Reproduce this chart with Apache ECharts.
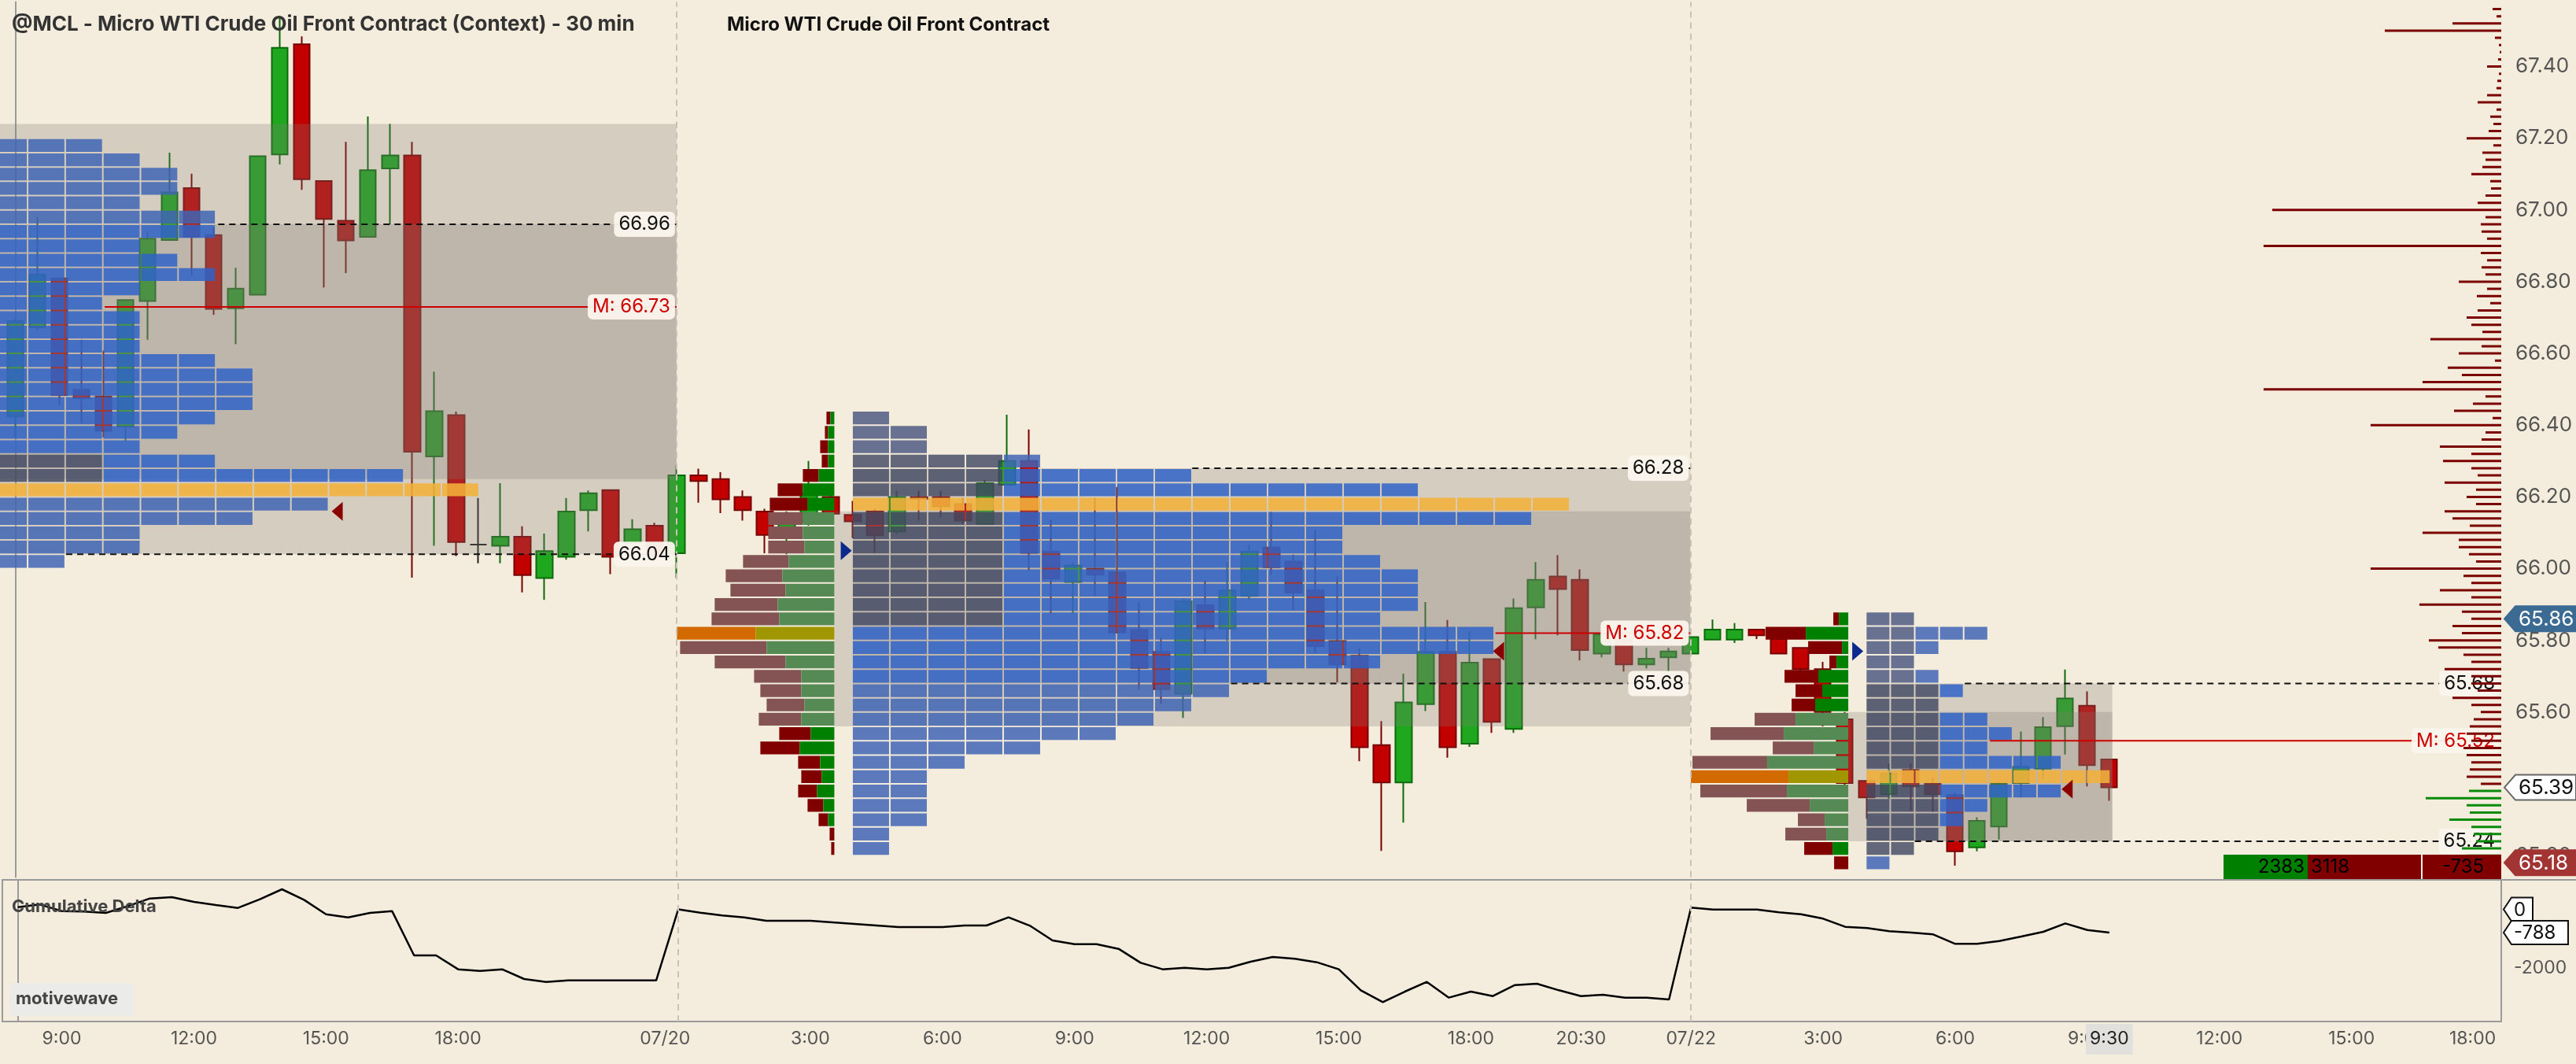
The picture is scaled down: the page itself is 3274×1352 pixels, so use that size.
<!DOCTYPE html>
<html>
<head>
<meta charset="utf-8">
<script src="https://cdn.jsdelivr.net/npm/echarts@6/dist/echarts.min.js"></script>
<style>
html, body { margin: 0; padding: 0; background: #f4ecdc; }
#chart { width: 3274px; height: 1352px; }
</style>
</head>
<body>
<div id="chart"></div>
<script>
// 30 min bars, one row per bar: open, close, low, high
var candles = [
  [66.424, 66.690, 66.366, 66.698], [66.673, 66.819, 66.666, 66.980], [66.809, 66.484, 66.457, 66.809],
  [66.499, 66.475, 66.406, 66.638], [66.480, 66.384, 66.366, 66.608], [66.396, 66.749, 66.356, 66.749],
  [66.746, 66.920, 66.638, 66.940], [66.916, 67.049, 66.916, 67.160], [67.061, 66.925, 66.817, 67.101],
  [66.930, 66.724, 66.708, 66.952], [66.726, 66.781, 66.626, 66.839], [66.764, 67.150, 66.764, 67.150],
  [67.155, 67.452, 67.127, 67.540], [67.462, 67.086, 67.056, 67.484], [67.081, 66.975, 66.784, 67.081],
  [66.970, 66.915, 66.824, 67.190], [66.925, 67.111, 66.925, 67.261], [67.116, 67.152, 66.960, 67.240],
  [67.152, 66.326, 65.975, 67.190], [66.313, 66.439, 66.064, 66.549], [66.428, 66.074, 66.035, 66.438],
  [66.067, 66.067, 66.015, 66.197], [66.064, 66.089, 66.015, 66.238], [66.089, 65.982, 65.934, 66.118],
  [65.974, 66.049, 65.913, 66.098], [66.033, 66.159, 66.025, 66.197], [66.163, 66.210, 66.104, 66.218],
  [66.219, 66.033, 65.985, 66.219], [66.072, 66.110, 66.072, 66.138], [66.120, 66.035, 66.020, 66.128],
  [66.043, 66.260, 65.974, 66.288], [66.260, 66.244, 66.184, 66.279], [66.250, 66.193, 66.155, 66.269],
  [66.200, 66.163, 66.134, 66.218], [66.159, 66.094, 66.043, 66.167], [66.094, 66.130, 66.040, 66.160],
  [66.130, 66.210, 66.120, 66.300], [66.200, 66.153, 66.140, 66.210], [66.150, 66.132, 66.085, 66.189],
  [66.160, 66.093, 66.044, 66.167], [66.104, 66.200, 66.096, 66.217], [66.200, 66.195, 66.134, 66.217],
  [66.200, 66.174, 66.144, 66.217], [66.180, 66.134, 66.125, 66.197], [66.124, 66.238, 66.124, 66.247],
  [66.234, 66.300, 66.234, 66.429], [66.300, 66.044, 65.994, 66.388], [66.048, 65.972, 65.874, 66.138],
  [65.963, 66.009, 65.874, 66.017], [66.000, 65.983, 65.924, 66.197], [65.989, 65.822, 65.822, 66.228],
  [65.829, 65.723, 65.664, 65.907], [65.768, 65.664, 65.623, 65.807], [65.651, 65.909, 65.584, 65.916],
  [65.898, 65.833, 65.764, 65.968], [65.833, 65.939, 65.798, 66.017], [65.924, 66.048, 65.914, 66.067],
  [66.059, 66.004, 65.983, 66.158], [66.020, 65.933, 65.885, 66.039], [65.939, 65.784, 65.764, 66.108],
  [65.798, 65.733, 65.683, 65.978], [65.757, 65.502, 65.463, 65.777], [65.508, 65.404, 65.213, 65.575],
  [65.404, 65.627, 65.292, 65.707], [65.622, 65.768, 65.603, 65.907], [65.768, 65.502, 65.473, 65.857],
  [65.512, 65.738, 65.503, 65.827], [65.748, 65.573, 65.542, 65.748], [65.553, 65.890, 65.542, 65.917],
  [65.892, 65.969, 65.803, 66.018], [65.978, 65.943, 65.814, 66.038], [65.969, 65.773, 65.744, 65.998],
  [65.763, 65.817, 65.753, 65.826], [65.802, 65.733, 65.713, 65.802], [65.733, 65.749, 65.722, 65.779],
  [65.753, 65.769, 65.713, 65.779], [65.763, 65.809, 65.763, 65.809], [65.802, 65.830, 65.802, 65.858],
  [65.802, 65.830, 65.793, 65.848], [65.830, 65.814, 65.804, 65.830], [65.804, 65.763, 65.763, 65.804],
  [65.779, 65.720, 65.706, 65.779], [65.720, 65.600, 65.560, 65.740], [65.580, 65.402, 65.390, 65.600],
  [65.408, 65.362, 65.303, 65.408], [65.371, 65.429, 65.358, 65.457], [65.439, 65.393, 65.325, 65.457],
  [65.400, 65.371, 65.322, 65.417], [65.369, 65.212, 65.172, 65.376], [65.223, 65.297, 65.212, 65.307],
  [65.281, 65.400, 65.245, 65.406], [65.402, 65.448, 65.362, 65.546], [65.442, 65.558, 65.413, 65.586],
  [65.561, 65.638, 65.482, 65.719], [65.618, 65.452, 65.393, 65.658], [65.468, 65.390, 65.353, 65.468]
];

var cumDelta = [
  75, 164, -58, -76, -120, 111, 369, 413, 253, 147, 49, 342, 680, 324, -165, -271, -120, -58,
  -1560, -1560, -2031, -2085, -2031, -2360, -2458, -2404, -2404, -2404, -2404, -2404,
  1, -111, -209, -271, -387, -387, -387, -440, -493, -547, -600, -600, -600, -547, -547, -271,
  -565, -1053, -1178, -1178, -1338, -1809, -2031, -1978, -2031, -1978, -1773, -1613,
  -1676, -1791, -2031, -2742, -3142, -2787, -2458, -2991, -2787, -2938, -2565, -2520, -2742,
  -2938, -2893, -2991, -2991, -3053,
  58, -4, -4, -4, -102, -165, -316, -591, -636, -742, -787, -849, -1169, -1169, -1071, -920,
  -760, -476, -700, -788
];

// time axis labels (bar index -> text)
var timeTickPos = [2, 8, 14, 20, 29.4, 36, 42, 48, 54, 60, 66, 71, 76, 82, 88, 94, 95, 100, 106, 111.5];
var timeTickText = ['9:00', '12:00', '15:00', '18:00', '07/20', '3:00', '6:00', '9:00', '12:00', '15:00',
  '18:00', '20:30', '07/22', '3:00', '6:00', '9:00', '9:30', '12:00', '15:00', '18:00'];

// TPO profiles: top row price, then block count per 0.04 row going down
var tpoTop = [67.18, 66.42, 65.86];
var tpo1 = [3, 4, 5, 5, 4, 6, 6, 4, 5, 6, 4, 3, 4, 4, 4, 6, 7, 7, 7, 6, 5, 4, 6, 11, 13, 9, 7, 4, 4, 2];
var tpo2 = [1, 2, 2, 5, 9, 15, 19, 18, 13, 13, 14, 15, 15, 15, 14, 17, 17, 14, 11, 10, 9, 8, 7, 5, 3, 2, 2, 2, 2, 1, 1];
var tpo3 = [2, 5, 3, 2, 3, 4, 3, 5, 6, 5, 8, 10, 8, 5, 4, 3, 2, 1];

// session volume profiles (sell / buy), rows of 0.04 going down from top
var histTop = [null, 66.42, 65.86];
var hist2Sell = [5, 4, 10, 8, 20, 32, 48, 44, 44, 46, 58, 72, 70, 80, 86, 100, 110, 90, 60, 52, 48, 54, 40, 50, 28, 26, 24, 20, 12, 6, 4];
var hist2Buy = [5, 8, 8, 8, 20, 40, 34, 40, 40, 38, 58, 66, 62, 72, 70, 100, 86, 62, 42, 42, 38, 42, 30, 44, 18, 16, 22, 14, 8, 0, 0];
var hist3Sell = [7, 51, 43, 9, 43, 34, 30, 52, 93, 52, 95, 124, 110, 80, 34, 52, 36, 18];
var hist3Buy = [12, 54, 8, 15, 38, 33, 42, 67, 82, 44, 103, 76, 78, 49, 30, 28, 20, 0];

// value areas (high, low), developing levels and midpoints per session
var volVA = [[67.24, 66.04], [66.16, 65.56], [65.60, 65.24]];
var tpoVA = [[66.96, 66.25], [66.28, 65.68], [65.68, 65.24]];
var levels = [[66.96, 66.04], [66.28, 65.68], [65.68, 65.24]];
var mids = [66.73, 65.82, 65.52];
var sellMarks = [[14.6, 66.16], [67.3, 65.77], [93.1, 65.385]];
var buyMarks = [[37.7, 66.05], [83.6, 65.77]];

// full volume by price on the right edge, 0.02 rows from 67.56 down
var rightTop = 67.56;
var rightSell = [11, 6, 62, 148, 8, 3, 2, 4, 18, 3, 5, 6, 18, 30, 6, 14, 10, 16, 44, 10, 24, 20, 24, 38, 14, 13,
  20, 30, 291, 20, 26, 25, 18, 302, 26, 18, 25, 20, 54, 18, 31, 14, 30, 44, 38, 24, 90, 25, 54, 8, 68, 50,
  100, 302, 20, 36, 60, 11, 166, 20, 25, 78, 38, 74, 38, 30, 72, 32, 44, 32, 72, 62, 40, 100, 54, 54, 41,
  32, 166, 48, 38, 78, 38, 104, 50, 38, 62, 50, 92, 80, 48, 38, 72, 38, 38, 30, 62, 38, 26, 35, 40, 44, 38,
  48, 44, 38, 40, 44, 26];
var rightBuy = [41, 96, 44, 40, 66, 38, 35, 32, 50, 44, 30];

var tagPrices = [65.86, 65.39, 65.18];
var deltaTags = [0, -788];
var barStats = ['2383', '3118', '-735'];

// ---- layout ----
var FONT = 'Inter, "Noto Sans", sans-serif';
var X0 = -0.7, X1 = 112.8, ROW = 0.04, PX = 1 / 28;
var sectionEnd = [30, 76, 95.15];
var tpoStart = [-1.12, 38.0, 84.0];
var tpoBlockW = [1.707, 1.714, 1.11];
var tpoDark = [{ cols: 3, r0: 22, r1: 23 }, { cols: 4, r0: 3, r1: 14 }, { cols: 3, r0: 5, r1: 16 }];
var histAnchor = [null, 37.16, 83.17];
var levelStart = [[9.2, 2.3], [53.4, 55.16], [88.46, 86.19]];
var midStart = [4.05, 67.16, 89.6];
var labelEnd = [30, 76, X1];

var tpoSets = [tpo1, tpo2, tpo3];
var histSets = [null, [hist2Sell, hist2Buy], [hist3Sell, hist3Buy]];

function argMax(a) { var m = 0; for (var i = 1; i < a.length; i++) if (a[i] > a[m]) m = i; return m; }
function inRange(p, r) { return p <= r[0] + 1e-6 && p >= r[1] - 1e-6; }
function box(api, xa, xb, pa, pb) {
  var a = api.coord([xa, pa]), b = api.coord([xb, pb]);
  return { x: Math.min(a[0], b[0]), y: Math.min(a[1], b[1]), width: Math.abs(b[0] - a[0]), height: Math.abs(b[1] - a[1]) };
}

var tpoItems = [];
tpoSets.forEach(function (rows, s) {
  rows.forEach(function (n, r) { for (var c = 0; c < n; c++) tpoItems.push([s, r, c]); });
});
var tpoPoc = tpoSets.map(argMax);

var histItems = [];
var histPoc = [null];
[1, 2].forEach(function (s) {
  var tot = histSets[s][0].map(function (v, i) { return v + histSets[s][1][i]; });
  histPoc[s] = argMax(tot);
  tot.forEach(function (v, r) { histItems.push([s, r]); });
});

var shadeItems = [];
for (var s = 0; s < 3; s++) {
  shadeItems.push([s === 0 ? X0 : histAnchor[s], sectionEnd[s], volVA[s][0], volVA[s][1]]);
  shadeItems.push([s === 0 ? X0 : tpoStart[s], sectionEnd[s], tpoVA[s][0], tpoVA[s][1]]);
}

var lineItems = [], labelItems = [];
for (var s = 0; s < 3; s++) {
  var endX = s === 2 ? X1 : sectionEnd[s];
  lineItems.push([levelStart[s][0], endX, levels[s][0], 0]);
  lineItems.push([levelStart[s][1], endX, levels[s][1], 0]);
  lineItems.push([midStart[s], endX, mids[s], 1]);
  labelItems.push([labelEnd[s], levels[s][0], s, 0]);
  labelItems.push([labelEnd[s], mids[s], s, 1]);
  labelItems.push([labelEnd[s], levels[s][1], s, 2]);
}

var rightItems = [];
rightSell.forEach(function (v, i) { rightItems.push([rightTop - 0.02 * i, v, 0]); });
var buyTop = rightTop - 0.02 * rightSell.length;
rightBuy.forEach(function (v, i) { rightItems.push([buyTop - 0.02 * i, v, 1]); });

var candleData = candles.map(function (d, i) {
  var item = { value: [i, d[0], d[1], d[2], d[3]] };
  if (d[0] === d[1]) item.itemStyle = { color: '#222', borderColor: '#222' };
  return item;
});

var dividerLine = {
  silent: true, symbol: ['none', 'none'], label: { show: false },
  lineStyle: { type: [8, 6], color: '#c9c2b6', width: 2 },
  data: [{ xAxis: 30 }, { xAxis: 76 }]
};

var chart = echarts.init(document.getElementById('chart'));

var option = {
  backgroundColor: '#f4ecdc',
  animation: false,
  title: [
    { text: '@MCL - Micro WTI Crude Oil Front Contract (Context) - 30 min', left: 10, top: 13,
      textStyle: { fontFamily: FONT, fontSize: 26, fontWeight: 'bold', color: '#333' } },
    { text: 'Micro WTI Crude Oil Front Contract', left: 919, top: 15,
      textStyle: { fontFamily: FONT, fontSize: 24, fontWeight: 'bold', color: '#111' } },
    { text: 'Cumulative Delta', left: 10, top: 1136,
      textStyle: { fontFamily: FONT, fontSize: 22, fontWeight: 'bold', color: '#444' } }
  ],
  grid: [
    { left: 0, top: 2.5, width: 3179, height: 1112 },
    { left: 0, top: 1118, width: 3179, height: 180, show: true, borderColor: '#9a9a9a', borderWidth: 2 }
  ],
  xAxis: [
    { type: 'value', gridIndex: 0, min: X0, max: X1, show: false },
    { type: 'value', gridIndex: 1, min: X0, max: X1, interval: 0.1,
      axisLine: { show: false }, axisTick: { show: false }, splitLine: { show: false },
      axisLabel: {
        margin: 3, color: '#555', fontSize: 23, fontFamily: FONT,
        formatter: function (v) {
          var k = Math.round(v * 10) / 10;
          var i = timeTickPos.indexOf(k);
          if (i < 0) return '';
          return timeTickText[i] === '9:30' ? '{h|9:30}' : '{n|' + timeTickText[i] + '}';
        },
        rich: {
          n: { color: '#555', fontSize: 23, fontFamily: FONT, padding: [8, 5, 8, 5] },
          h: { backgroundColor: '#e2e0dc', color: '#222', fontSize: 23, fontFamily: FONT, padding: [8, 5, 8, 5] }
        }
      } }
  ],
  yAxis: [
    { type: 'value', gridIndex: 0, position: 'right', min: 65.14, max: 67.58, interval: 0.02,
      axisLine: { show: true, lineStyle: { color: '#9a9a9a', width: 2 } }, axisTick: { show: false },
      splitLine: { show: false },
      axisLabel: {
        margin: 18, color: '#555', fontSize: 26, fontFamily: FONT,
        formatter: function (v) {
          var t = Math.round(v * 100);
          return t % 20 === 0 ? (t / 100).toFixed(2) : '';
        }
      } },
    { type: 'value', gridIndex: 1, position: 'right', min: -3800, max: 1000, interval: 200,
      axisLine: { show: true, lineStyle: { color: '#9a9a9a', width: 2 } }, axisTick: { show: false },
      splitLine: { show: false },
      axisLabel: {
        margin: 16, color: '#555', fontSize: 23, fontFamily: FONT,
        formatter: function (v) { return Math.round(v) === -2000 ? '-2000' : ''; }
      } }
  ],
  graphic: [
    { type: 'rect', left: 3179, top: 1117, shape: { width: 95, height: 2 }, style: { fill: '#9a9a9a' }, z: 10 },
    { type: 'rect', left: 12, top: 1249, shape: { width: 158, height: 42, r: 4 }, style: { fill: '#ebebea' }, z: 10 },
    { type: 'text', left: 20, top: 1258, style: { text: 'motivewave', fill: '#444', font: 'bold 22px ' + FONT }, z: 11 },
    { type: 'rect', left: 2826, top: 1086, shape: { width: 107, height: 31 }, style: { fill: '#008000' }, z: 20 },
    { type: 'rect', left: 2933, top: 1086, shape: { width: 144, height: 31 }, style: { fill: '#800000' }, z: 20 },
    { type: 'rect', left: 3079, top: 1086, shape: { width: 100, height: 31 }, style: { fill: '#800000' }, z: 20 },
    { type: 'text', right: 3274 - 2929, top: 1090, style: { text: barStats[0], fill: '#000', font: '24px ' + FONT }, z: 21 },
    { type: 'text', left: 2937, top: 1090, style: { text: barStats[1], fill: '#000', font: '24px ' + FONT }, z: 21 },
    { type: 'text', left: 3104, top: 1090, style: { text: barStats[2], fill: '#000', font: '24px ' + FONT }, z: 21 }
  ],
  series: [
    {
      type: 'candlestick', name: 'MCL', xAxisIndex: 0, yAxisIndex: 0, z: 2,
      encode: { x: 0, y: [1, 2, 3, 4] },
      barWidth: 21,
      itemStyle: { color: '#1fa81f', color0: '#c20000', borderColor: '#0b6a0b', borderColor0: '#760000', borderWidth: 2 },
      data: candleData,
      markLine: dividerLine
    },
    {
      // value area shading drawn over the candles
      type: 'custom', xAxisIndex: 0, yAxisIndex: 0, z: 3, clip: true, silent: true,
      data: shadeItems,
      renderItem: function (params, api) {
        return { type: 'rect', shape: box(api, api.value(0), api.value(1), api.value(2), api.value(3)),
          style: { fill: 'rgba(129,121,116,0.27)' } };
      }
    },
    {
      // TPO blocks
      type: 'custom', xAxisIndex: 0, yAxisIndex: 0, z: 4, clip: true, silent: true,
      data: tpoItems,
      renderItem: function (params, api) {
        var s = api.value(0), r = api.value(1), c = api.value(2);
        var price = tpoTop[s] - ROW * r;
        var x0 = tpoStart[s] + c * tpoBlockW[s];
        var rc = box(api, x0, x0 + tpoBlockW[s], price + ROW / 2, price - ROW / 2);
        rc.y += 1; rc.height -= 2; rc.width -= 2;
        var d = tpoDark[s], fill;
        if (r === tpoPoc[s]) fill = 'rgba(242,176,58,0.88)';
        else if (c < d.cols && r >= d.r0 && r <= d.r1) fill = 'rgba(62,70,98,0.8)';
        else if (c < 2 && (s === 1 ? r < 3 : s === 2 ? r < 5 : false)) fill = 'rgba(80,92,130,0.85)';
        else if (inRange(price, tpoVA[s])) fill = 'rgba(47,99,200,0.85)';
        else fill = 'rgba(64,101,181,0.85)';
        return { type: 'rect', shape: rc, style: { fill: fill } };
      }
    },
    {
      // session volume profile, buy on the right, sell on the left
      type: 'custom', xAxisIndex: 0, yAxisIndex: 0, z: 4, clip: true, silent: true,
      data: histItems,
      renderItem: function (params, api) {
        var s = api.value(0), r = api.value(1);
        var price = histTop[s] - ROW * r;
        var sell = histSets[s][0][r], buy = histSets[s][1][r];
        var xa = histAnchor[s], xb = xa - buy * PX, xc = xb - sell * PX;
        var poc = r === histPoc[s], va = inRange(price, volVA[s]);
        var red = poc ? '#d26a00' : va ? '#845454' : '#800000';
        var green = poc ? '#a09600' : va ? '#558a55' : '#008000';
        var g = box(api, xb, xa, price + ROW / 2, price - ROW / 2);
        var rr = box(api, xc, xb, price + ROW / 2, price - ROW / 2);
        g.y += 1; g.height -= 2; rr.y += 1; rr.height -= 2;
        return { type: 'group', children: [
          { type: 'rect', shape: rr, style: { fill: red } },
          { type: 'rect', shape: g, style: { fill: green } }
        ] };
      }
    },
    {
      // developing value levels (dashed) and midpoints (red)
      type: 'custom', xAxisIndex: 0, yAxisIndex: 0, z: 6, clip: true, silent: true,
      data: lineItems,
      renderItem: function (params, api) {
        var a = api.coord([api.value(0), api.value(2)]), b = api.coord([api.value(1), api.value(2)]);
        var red = api.value(3) === 1;
        return { type: 'line', shape: { x1: a[0], y1: a[1], x2: b[0], y2: b[1] },
          style: { stroke: red ? '#cc0000' : '#111', lineWidth: 2, lineDash: red ? null : [8, 6] } };
      }
    },
    {
      type: 'custom', xAxisIndex: 0, yAxisIndex: 0, z: 7, clip: false, silent: true,
      data: labelItems,
      renderItem: function (params, api) {
        var p = api.coord([api.value(0), api.value(1)]);
        var kind = api.value(3), price = api.value(1);
        var txt = kind === 1 ? 'M: ' + price.toFixed(2) : price.toFixed(2);
        return { type: 'text', x: p[0] - 2, y: p[1],
          style: { text: txt, fill: kind === 1 ? '#cc0000' : '#111', font: '24px ' + FONT,
            align: 'right', verticalAlign: 'middle', backgroundColor: 'rgba(250,245,236,0.96)',
            padding: [5, 6, 3, 6], borderRadius: 6 } };
      }
    },
    {
      type: 'custom', xAxisIndex: 0, yAxisIndex: 0, z: 6, clip: true, silent: true,
      data: sellMarks.map(function (m) { return [m[0], m[1], 0]; }).concat(buyMarks.map(function (m) { return [m[0], m[1], 1]; })),
      renderItem: function (params, api) {
        var p = api.coord([api.value(0), api.value(1)]);
        var pts = api.value(2) === 0
          ? [[p[0] - 7, p[1]], [p[0] + 7, p[1] - 12], [p[0] + 7, p[1] + 12]]
          : [[p[0] + 7, p[1]], [p[0] - 7, p[1] - 12], [p[0] - 7, p[1] + 12]];
        return { type: 'polygon', shape: { points: pts }, style: { fill: api.value(2) === 0 ? '#8a0000' : '#0b2a8c' } };
      }
    },
    {
      // volume by price along the price axis
      type: 'custom', xAxisIndex: 0, yAxisIndex: 0, z: 8, clip: true, silent: true,
      data: rightItems,
      renderItem: function (params, api) {
        var a = api.coord([X1 - api.value(1) * PX, api.value(0)]), b = api.coord([X1, api.value(0)]);
        return { type: 'rect', shape: { x: a[0], y: a[1] - 1.5, width: b[0] - a[0], height: 3 },
          style: { fill: api.value(2) === 1 ? '#0a8a0a' : '#7a0000' } };
      }
    },
    {
      // price tags on the axis: session high, last, session low
      type: 'custom', xAxisIndex: 0, yAxisIndex: 0, z: 12, clip: false, silent: true,
      data: tagPrices.map(function (p, i) { return [X1, p, i]; }),
      renderItem: function (params, api) {
        var p = api.coord([api.value(0), api.value(1)]), i = api.value(2);
        var fills = ['#3b6a93', '#ffffff', '#a23434'], txt = ['#fff', '#111', '#fff'];
        var x = p[0] + 4, y = p[1];
        return { type: 'group', children: [
          { type: 'polygon', shape: { points: [[x, y], [x + 14, y - 16], [3274, y - 16], [3274, y + 16], [x + 14, y + 16]] },
            style: { fill: fills[i], stroke: i === 1 ? '#666' : fills[i], lineWidth: 2 } },
          { type: 'text', x: x + 18, y: y + 1, style: { text: tagPrices[i].toFixed(2), fill: txt[i], font: '26px ' + FONT, verticalAlign: 'middle' } }
        ] };
      }
    },
    {
      type: 'line', xAxisIndex: 1, yAxisIndex: 1, z: 3, showSymbol: false, silent: true,
      lineStyle: { color: '#000', width: 2.5 },
      data: cumDelta.map(function (v, i) { return [i, v]; }),
      markLine: dividerLine
    },
    {
      type: 'custom', xAxisIndex: 1, yAxisIndex: 1, z: 12, clip: false, silent: true,
      data: deltaTags.map(function (v, i) { return [X1, v, i]; }),
      renderItem: function (params, api) {
        var p = api.coord([api.value(0), api.value(1)]), i = api.value(2);
        var txt = String(deltaTags[i]);
        var w = txt.length * 15 + 22;
        var x = p[0] + 3, y = p[1];
        return { type: 'group', children: [
          { type: 'polygon', shape: { points: [[x, y], [x + 10, y - 15], [x + w, y - 15], [x + w, y + 15], [x + 10, y + 15]] },
            style: { fill: '#fff', stroke: '#111', lineWidth: 2 } },
          { type: 'text', x: x + 13, y: y + 1, style: { text: txt, fill: '#111', font: '24px ' + FONT, verticalAlign: 'middle' } }
        ] };
      }
    }
  ]
};

chart.setOption(option);
</script>
</body>
</html>
